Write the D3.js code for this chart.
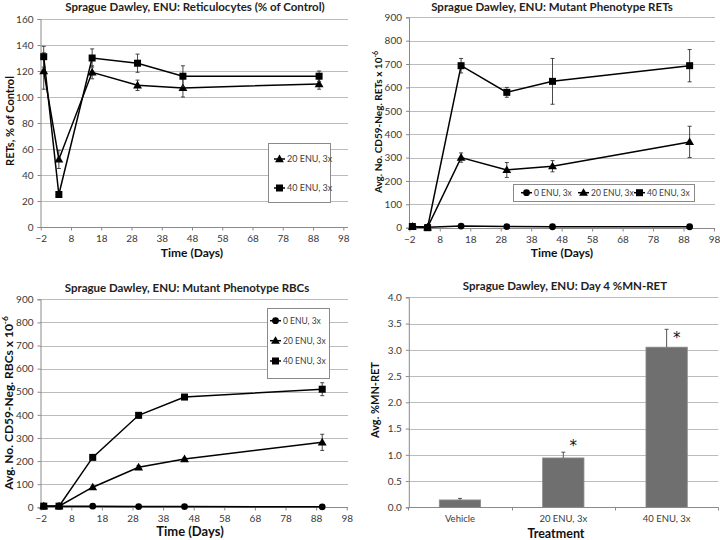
<!DOCTYPE html>
<html><head><meta charset="utf-8">
<script src="https://cdn.jsdelivr.net/npm/d3@7"></script>
<style>
body{margin:0;background:#fff;}
svg{display:block;font-family:Lato,"Open Sans",sans-serif;}
</style></head>
<body><svg id="c" width="720" height="540"></svg>
<script>
// ---------- DATA ----------
const days = [-1, 4, 15, 30, 45, 90];
const xTicks = [-2, 8, 18, 28, 38, 48, 58, 68, 78, 88, 98];

// Panel 1: Reticulocytes (% of Control)
const ret20 = [120, 52, 119, 109, 107, 110];
const ret20Err = [14, 7, 5, 4, 7, 4];
const ret40 = [131, 25, 130, 126, 116, 116];
const ret40Err = [8, 2, 7, 7, 8, 4];

// Panel 2: Mutant phenotype RETs
const mret0 = [5, 2, 7, 5, 4, 4];
const mret0Err = [0, 0, 0, 0, 0, 0];
const mret20 = [5, 2, 300, 247, 263, 367];
const mret20Err = [0, 0, 20, 32, 24, 67];
const mret40 = [5, 0, 693, 579, 626, 693];
const mret40Err = [0, 0, 31, 21, 98, 69];

// Panel 3: Mutant phenotype RBCs
const mrbc0 = [5, 5, 5, 3, 3, 2];
const mrbc0Err = [0, 0, 0, 0, 0, 0];
const mrbc20 = [5, 5, 87, 173, 209, 281];
const mrbc20Err = [0, 0, 5, 8, 5, 35];
const mrbc40 = [5, 5, 216, 398, 477, 511];
const mrbc40Err = [0, 0, 5, 12, 8, 28];

// Panel 4: Day 4 %MN-RET
const treatments = ["Vehicle", "20 ENU, 3x", "40 ENU, 3x"];
const mnRet = [0.14, 0.94, 3.05];
const mnRetErr = [0.03, 0.11, 0.34];
const sigMark = ["", "*", "*"];
const sigMarkAt = [0, 1.23, 3.28];

const seriesNames = ["0 ENU, 3x", "20 ENU, 3x", "40 ENU, 3x"];
const markerTypes = ["circle", "triangle", "square"];

// ---------- DRAW ----------
const svg = d3.select("#c");
const GRID = "#bcbcbc", AXIS = "#8a8a8a", TXT = "#3a3a3a";

function marker(g, type, x, y) {
  if (type === "circle") g.append("circle").attr("cx", x).attr("cy", y).attr("r", 3.4).attr("fill", "#000");
  else if (type === "square") g.append("rect").attr("x", x - 3.5).attr("y", y - 3.5).attr("width", 7).attr("height", 7).attr("fill", "#000");
  else g.append("path").attr("d", d3.symbol().type(d3.symbolTriangle).size(34)()).attr("transform", `translate(${x},${y+0.6})`).attr("fill", "#000");
}

function frame(o) {
  const g = svg.append("g");
  g.selectAll(".gl").data(o.yTicks).join("line")
    .attr("x1", o.left).attr("x2", o.gridRight)
    .attr("y1", d => Math.round(o.y(d)) + 0.5).attr("y2", d => Math.round(o.y(d)) + 0.5)
    .attr("stroke", GRID).attr("stroke-width", 1);
  const ya = d3.axisLeft(o.y).tickValues(o.yTicks).tickSize(3).tickPadding(4).tickFormat(o.yFmt || d3.format("d"));
  const yg = g.append("g").attr("transform", `translate(${o.left + 0.5},0)`).call(ya);
  yg.select(".domain").attr("stroke", AXIS);
  yg.selectAll(".tick line").attr("stroke", AXIS);
  yg.selectAll("text").attr("fill", TXT).style("font-size", o.tickFs + "px").attr("font-family", "Lato");
  return g;
}

function xAxisLinear(g, o) {
  const xa = d3.axisBottom(o.x).tickValues(xTicks).tickSize(3).tickPadding(4).tickFormat(d3.format("d"));
  const xg = g.append("g").attr("transform", `translate(0,${Math.round(o.y(0)) + 0.5})`).call(xa);
  xg.select(".domain").attr("d", `M${o.left},0H${o.gridRight}`).attr("stroke", AXIS);
  xg.selectAll(".tick line").attr("stroke", AXIS);
  xg.selectAll("text").attr("fill", TXT).style("font-size", o.tickFs + "px").attr("font-family", "Lato");
}

function titles(o) {
  svg.append("text").attr("x", o.titleX).attr("y", o.titleY).attr("text-anchor", "middle")
    .attr("font-weight", "bold").style("font-size", o.titleFs + "px").attr("fill", "#222").text(o.title);
  svg.append("text").attr("x", o.xlabX).attr("y", o.xlabY).attr("text-anchor", "middle")
    .attr("font-weight", "bold").style("font-size", o.xlabFs + "px").attr("fill", "#111").text(o.xlab);
  const yl = svg.append("text").attr("transform", `translate(${o.ylabX},${o.ylabY}) rotate(-90)`)
    .attr("text-anchor", "middle").attr("font-weight", "bold").style("font-size", o.ylabFs + "px").attr("fill", "#111");
  yl.append("tspan").text(o.ylab);
  if (o.ylabSup) yl.append("tspan").attr("dy", -o.ylabFs * 0.4).style("font-size", (o.ylabFs * 0.7) + "px").text(o.ylabSup);
}

function linePanel(o) {
  const g = frame(o);
  xAxisLinear(g, o);
  const line = d3.line().x((d, i) => o.x(days[i])).y(d => o.y(d));
  o.series.forEach(s => {
    const sg = g.append("g");
    s.vals.forEach((v, i) => {
      const e = s.err[i];
      if (!e) return;
      const x = o.x(days[i]);
      sg.append("line").attr("x1", x).attr("x2", x).attr("y1", o.y(v - e)).attr("y2", o.y(v + e)).attr("stroke", "#333").attr("stroke-width", 0.9);
      [v - e, v + e].forEach(w => sg.append("line").attr("x1", x - 2).attr("x2", x + 2).attr("y1", o.y(w)).attr("y2", o.y(w)).attr("stroke", "#333").attr("stroke-width", 0.9));
    });
    sg.append("path").datum(s.vals).attr("d", line).attr("fill", "none").attr("stroke", "#000").attr("stroke-width", 1.5);
    s.vals.forEach((v, i) => marker(sg, s.type, o.x(days[i]), o.y(v)));
  });
  const L = o.legend;
  const lg = svg.append("g");
  lg.append("rect").attr("x", L.x + 0.5).attr("y", L.y + 0.5).attr("width", L.w).attr("height", L.h)
    .attr("fill", "#fff").attr("stroke", "#8a8a8a").attr("stroke-width", 1);
  o.series.forEach((s, i) => {
    const ex = L.ex[i], ey = L.ey[i];
    lg.append("line").attr("x1", ex).attr("x2", ex + 11).attr("y1", ey).attr("y2", ey).attr("stroke", "#000").attr("stroke-width", 1.5);
    marker(lg, s.type, ex + 5.5, ey);
    lg.append("text").attr("x", ex + 13).attr("y", ey).attr("dy", "0.35em").style("font-size", L.fs + "px").attr("fill", TXT).text(s.name);
  });
  titles(o);
}

// Panel 1
linePanel({
  left: 40, gridRight: 348,
  x: d3.scaleLinear().domain([-2, 98]).range([40.7, 343.3]),
  y: d3.scaleLinear().domain([0, 160]).range([227, 19]),
  yTicks: d3.range(0, 161, 20), tickFs: 10,
  series: [
    { name: seriesNames[1], type: markerTypes[1], vals: ret20, err: ret20Err },
    { name: seriesNames[2], type: markerTypes[2], vals: ret40, err: ret40Err }
  ],
  legend: { x: 268, y: 143, w: 62, h: 59, ex: [274, 274], ey: [159, 188], fs: 9 },
  title: "Sprague Dawley, ENU: Reticulocytes (% of Control)", titleX: 195, titleY: 11, titleFs: 11.5,
  xlab: "Time (Days)", xlabX: 192, xlabY: 257, xlabFs: 12,
  ylab: "RETs, % of Control", ylabX: 14, ylabY: 121, ylabFs: 11
});

// Panel 2
linePanel({
  left: 408.5, gridRight: 715,
  x: d3.scaleLinear().domain([-2, 98]).range([409.3, 714]),
  y: d3.scaleLinear().domain([0, 900]).range([227.7, 17.3]),
  yTicks: d3.range(0, 901, 100), tickFs: 10,
  series: [
    { name: seriesNames[0], type: markerTypes[0], vals: mret0, err: mret0Err },
    { name: seriesNames[1], type: markerTypes[1], vals: mret20, err: mret20Err },
    { name: seriesNames[2], type: markerTypes[2], vals: mret40, err: mret40Err }
  ],
  legend: { x: 513, y: 184, w: 181, h: 17, ex: [521, 578, 634], ey: [192.7, 192.7, 192.7], fs: 8.5 },
  title: "Sprague Dawley, ENU: Mutant Phenotype RETs", titleX: 552, titleY: 11, titleFs: 11.5,
  xlab: "Time (Days)", xlabX: 562, xlabY: 257, xlabFs: 12,
  ylab: "Avg. No. CD59-Neg. RETs x 10", ylabSup: "-6", ylabX: 382, ylabY: 122, ylabFs: 10
});

// Panel 3
linePanel({
  left: 40, gridRight: 348,
  x: d3.scaleLinear().domain([-2, 98]).range([40.7, 346.7]),
  y: d3.scaleLinear().domain([0, 900]).range([507.3, 299.3]),
  yTicks: d3.range(0, 901, 100), tickFs: 10,
  series: [
    { name: seriesNames[0], type: markerTypes[0], vals: mrbc0, err: mrbc0Err },
    { name: seriesNames[1], type: markerTypes[1], vals: mrbc20, err: mrbc20Err },
    { name: seriesNames[2], type: markerTypes[2], vals: mrbc40, err: mrbc40Err }
  ],
  legend: { x: 267, y: 308, w: 62, h: 70, ex: [270, 270, 270], ey: [320.7, 340.7, 361], fs: 8.5 },
  title: "Sprague Dawley, ENU: Mutant Phenotype RBCs", titleX: 187, titleY: 292, titleFs: 11.5,
  xlab: "Time (Days)", xlabX: 190, xlabY: 536, xlabFs: 13,
  ylab: "Avg. No. CD59-Neg. RBCs x 10", ylabSup: "-6", ylabX: 13, ylabY: 403, ylabFs: 12
});

// Panel 4: bars
(function () {
  const o = {
    left: 408.3, gridRight: 718.3,
    y: d3.scaleLinear().domain([0, 4]).range([507.3, 297.3]),
    yTicks: d3.range(0, 4.01, 0.5), yFmt: d3.format(".1f"), tickFs: 10
  };
  const g = frame(o);
  const x = d3.scaleBand().domain(treatments).range([408.3, 718.3]).paddingInner(0.6).paddingOuter(0.3);
  const y0 = Math.round(o.y(0)) + 0.5;
  g.append("line").attr("x1", o.left).attr("x2", o.gridRight).attr("y1", y0).attr("y2", y0).attr("stroke", AXIS);
  const step = x.step();
  [0, 1, 2, 3].forEach(i => {
    const xx = Math.round(408.3 + i * step) + 0.5;
    g.append("line").attr("x1", xx).attr("x2", xx).attr("y1", y0).attr("y2", y0 + 3).attr("stroke", AXIS);
  });
  treatments.forEach((t, i) => {
    const bx = x(t), bw = x.bandwidth(), cx = bx + bw / 2;
    g.append("rect").attr("x", bx).attr("y", o.y(mnRet[i])).attr("width", bw).attr("height", o.y(0) - o.y(mnRet[i]))
      .attr("fill", "#6f6f6f").attr("stroke", "#8c8c8c").attr("stroke-width", 0.8);
    const top = o.y(mnRet[i] + mnRetErr[i]);
    g.append("line").attr("x1", cx).attr("x2", cx).attr("y1", o.y(mnRet[i])).attr("y2", top).attr("stroke", "#555").attr("stroke-width", 1);
    g.append("line").attr("x1", cx - 2).attr("x2", cx + 2).attr("y1", top).attr("y2", top).attr("stroke", "#555").attr("stroke-width", 1);
    g.append("text").attr("x", cx).attr("y", 522).attr("text-anchor", "middle").style("font-size", "9.5px").attr("fill", TXT).text(t);
    if (sigMark[i]) g.append("text").attr("x", cx + 10).attr("y", o.y(sigMarkAt[i])).attr("dy", "0.55em").attr("text-anchor", "middle")
      .style("font-size", "15px").style("font-family", "'DejaVu Sans'").attr("fill", "#111").text(sigMark[i]);
  });
  titles({
    title: "Sprague Dawley, ENU: Day 4 %MN-RET", titleX: 565, titleY: 290, titleFs: 11.5,
    xlab: "Treatment", xlabX: 556, xlabY: 538, xlabFs: 12.5,
    ylab: "Avg. %MN-RET", ylabX: 379, ylabY: 400, ylabFs: 11
  });
})();
</script></body></html>
